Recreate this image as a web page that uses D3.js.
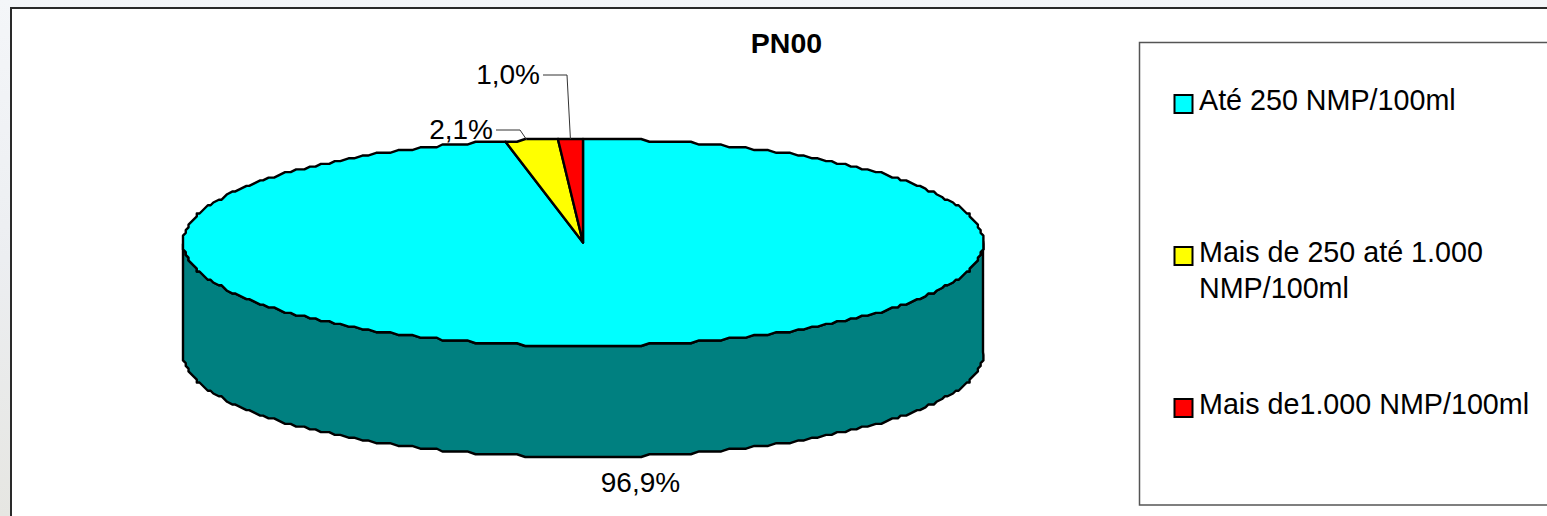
<!DOCTYPE html>
<html>
<head>
<meta charset="utf-8">
<script src="https://cdn.jsdelivr.net/npm/d3@7"></script>
<style>
html, body { margin: 0; padding: 0; background: #eef0f2; overflow: hidden; }
text { font-family: "Liberation Sans", Arial, sans-serif; fill: #000; }
</style>
</head>
<body>
<svg id="chart" width="1547" height="516"></svg>
<script>
var title = 'PN00';
var categories = ['Até 250 NMP/100ml', 'Mais de 250 até 1.000 NMP/100ml', 'Mais de1.000 NMP/100ml'];
var legendLines = [['Até 250 NMP/100ml'], ['Mais de 250 até 1.000', 'NMP/100ml'], ['Mais de1.000 NMP/100ml']];
var values = [96.9, 2.1, 1.0];
var valueLabels = ['96,9%', '2,1%', '1,0%'];
var topColors = ['#00ffff', '#ffff00', '#ff0000'];
var wallColor = '#008080';

var W = 1547, H = 516;
var depth = 111, grid = 2.76, stepDeg = 1.2;

var svg = d3.select('#chart');

// page background behind the chart frame
var defs = svg.append('defs');
var grad = defs.append('linearGradient').attr('id', 'bg').attr('x1', 0).attr('y1', 0).attr('x2', 0).attr('y2', 1);
grad.append('stop').attr('offset', '0%').attr('stop-color', '#f4f6f9');
grad.append('stop').attr('offset', '50%').attr('stop-color', '#eceef1');
grad.append('stop').attr('offset', '100%').attr('stop-color', '#e6e6e2');
svg.append('rect').attr('width', W).attr('height', H).attr('fill', 'url(#bg)');

// chart frame, runs off the right and bottom of the picture
svg.append('rect').attr('x', 11).attr('y', 8).attr('width', W).attr('height', H)
	.attr('fill', '#fff').attr('stroke', '#2a2a2a').attr('stroke-width', 2);

// the tilted pie: unit circle mapped on the ellipse
var x = d3.scaleLinear().domain([-1, 1]).range([183, 983]);
var y = d3.scaleLinear().domain([-1, 1]).range([139, 346]);
var line = d3.line();

// the reference outline is stepped, so snap points on a coarse grid
function snapX(v) { return x(-1) + Math.round((v - x(-1)) / grid) * grid; }
function snapY(v) { return y(-1) + Math.round((v - y(-1)) / grid) * grid; }

function rim(a0, a1, dy) {
	var pts = [[x(Math.sin(a0)), snapY(y(-Math.cos(a0))) + dy]];
	var step = stepDeg * Math.PI / 180;
	d3.range(Math.ceil(a0 / step + 0.001), a1 / step, 1).forEach(function(k){
		pts.push([snapX(x(Math.sin(k * step))), snapY(y(-Math.cos(k * step))) + dy]);
	});
	pts.push([x(Math.sin(a1)), snapY(y(-Math.cos(a1))) + dy]);
	return pts;
}

var arcs = d3.pie().sort(null)(values);

var g = svg.append('g').attr('stroke', '#000').attr('stroke-width', 2.4).attr('stroke-linejoin', 'round');

// side wall, front half of the rim
var front = rim(Math.PI / 2, Math.PI * 1.5, 0);
var back = rim(Math.PI / 2, Math.PI * 1.5, depth).reverse();
g.append('path').attr('d', line(front.concat(back)) + 'Z').attr('fill', wallColor);

// top slices
g.selectAll('path.slice').data(arcs).enter().append('path')
	.attr('class', 'slice')
	.attr('fill', function(d, i){ return topColors[i]; })
	.attr('d', function(d){
		var pts = [[x(0), y(0)]].concat(rim(d.startAngle, d.endAngle, 0));
		return line(pts) + 'Z';
	});

// data labels with leaders
function rimPoint(d, shift) {
	var a = (d.startAngle + d.endAngle) / 2 + shift;
	return [x(Math.sin(a)), y(-Math.cos(a))];
}
var leaderLine = d3.line();
var p1 = rimPoint(arcs[1], -0.012), p2 = rimPoint(arcs[2], 0);
svg.append('path').attr('fill', 'none').attr('stroke', '#333').attr('stroke-width', 1)
	.attr('d', leaderLine([[496, 130], [520, 130], p1]));
svg.append('path').attr('fill', 'none').attr('stroke', '#333').attr('stroke-width', 1)
	.attr('d', leaderLine([[543, 75], [567, 75], p2]));

var labelPos = [[640.5, 492, 'middle'], [493, 139, 'end'], [540, 84, 'end']];
svg.selectAll('text.value').data(valueLabels).enter().append('text')
	.attr('class', 'value')
	.attr('x', function(d, i){ return labelPos[i][0]; })
	.attr('y', function(d, i){ return labelPos[i][1]; })
	.attr('text-anchor', function(d, i){ return labelPos[i][2]; })
	.style('font-size', '28px')
	.text(function(d){ return d; });

// title
svg.append('text').attr('x', 786.5).attr('y', 53).attr('text-anchor', 'middle')
	.style('font-size', '28.5px').style('font-weight', 'bold').text(title);

// legend box
svg.append('rect').attr('x', 1139.5).attr('y', 42.5).attr('width', W).attr('height', 462.5)
	.attr('fill', '#fff').attr('stroke', '#555').attr('stroke-width', 1.5);

var legendY = [110, 262, 414];
var legend = svg.selectAll('g.legend').data(categories).enter().append('g').attr('class', 'legend');
legend.append('rect')
	.attr('x', 1174.5)
	.attr('y', function(d, i){ return legendY[i] - 15; })
	.attr('width', 18).attr('height', 18)
	.attr('fill', function(d, i){ return topColors[i]; })
	.attr('stroke', '#000').attr('stroke-width', 2);
legend.each(function(d, i){
	d3.select(this).selectAll('text').data(legendLines[i]).enter().append('text')
		.attr('x', 1199)
		.attr('y', function(t, j){ return legendY[i] + j * 36; })
		.style('font-size', '28.7px')
		.text(function(t){ return t; });
});
</script>
</body>
</html>
